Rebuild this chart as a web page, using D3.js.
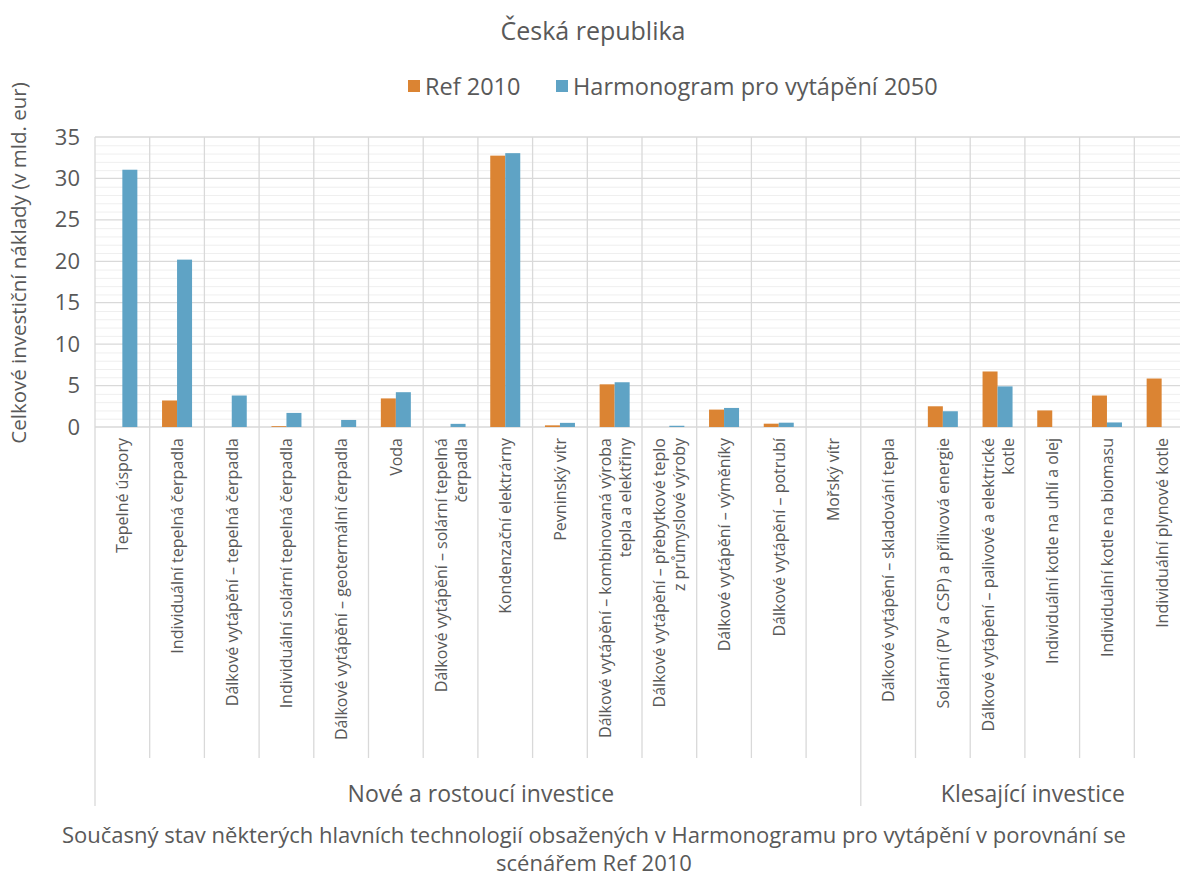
<!DOCTYPE html>
<html lang="cs">
<head>
<meta charset="utf-8">
<script src="https://cdn.jsdelivr.net/npm/d3@7"></script>
<style>
  html, body { margin: 0; padding: 0; background: #fff; }
  svg { display: block; font-family: "Open Sans", "Noto Sans", sans-serif; }
</style>
</head>
<body>
<svg id="chart" width="1180" height="876"></svg>
<script>
// Technologies (line breaks mark where the axis label wraps)
const categories = [
  "Tepelné úspory",
  "Individuální tepelná čerpadla",
  "Dálkové vytápění – tepelná čerpadla",
  "Individuální solární tepelná čerpadla",
  "Dálkové vytápění – geotermální čerpadla",
  "Voda",
  "Dálkové vytápění – solární tepelná\nčerpadla",
  "Kondenzační elektrárny",
  "Pevninský vítr",
  "Dálkové vytápění – kombinovaná výroba\ntepla a elektřiny",
  "Dálkové vytápění – přebytkové teplo\nz průmyslové výroby",
  "Dálkové vytápění – výměníky",
  "Dálkové vytápění – potrubí",
  "Mořský vítr",
  "Dálkové vytápění – skladování tepla",
  "Solární (PV a CSP) a přílivová energie",
  "Dálkové vytápění – palivové a elektrické\nkotle",
  "Individuální kotle na uhlí a olej",
  "Individuální kotle na biomasu",
  "Individuální plynové kotle"
];

// Total investment costs, billion EUR
const ref2010 = [0, 3.2, 0, 0.1, 0, 3.45, 0, 32.75, 0.2, 5.15, 0, 2.1, 0.4, 0,
                 0, 2.5, 6.7, 2.0, 3.8, 5.85];
const heatRoadmap = [31.05, 20.2, 3.8, 1.7, 0.85, 4.2, 0.38, 33.05, 0.5, 5.4, 0.15, 2.3, 0.52, 0,
                     0, 1.9, 4.9, 0, 0.55, 0];

const seriesNames = ["Ref 2010", "Harmonogram pro vytápění 2050"];
const seriesColors = ["#DB8433", "#5FA3C5"];

const groupNames = ["Nové a rostoucí investice", "Klesající investice"];
const groupSizes = [14, 6];

const yTicks = [0, 5, 10, 15, 20, 25, 30, 35];

const chartTitle = "Česká republika";
const yTitle = "Celkové investiční náklady (v mld. eur)";
const xTitle = ["Současný stav některých hlavních technologií obsažených v Harmonogramu pro vytápění v porovnání se",
                "scénářem Ref 2010"];

const textColor = "#595959";
const gridMajor = "#d9d9d9";
const gridMinor = "#efefef";

const svg = d3.select("#chart");

const plotLeft = 95, step = 54.7;
const plotTop = 137, plotBottom = 427;
const plotRight = 1180;

const x = d3.scaleBand()
  .domain(d3.range(categories.length))
  .range([plotLeft, plotLeft + step * categories.length])
  .paddingInner(0).paddingOuter(0);

const xSub = d3.scaleBand()
  .domain([0, 1])
  .range([0, x.bandwidth()])
  .paddingInner(0).paddingOuter(0.823);

const y = d3.scaleLinear().domain([0, 35]).range([plotBottom, plotTop]);

// minor gridlines
svg.append("g").selectAll("line")
  .data(d3.range(0, 36).filter(v => v % 5 !== 0))
  .join("line")
  .attr("x1", plotLeft).attr("x2", plotRight)
  .attr("y1", d => y(d) + 0.5).attr("y2", d => y(d) + 0.5)
  .attr("stroke", gridMinor).attr("stroke-width", 1);

// major gridlines
svg.append("g").selectAll("line")
  .data(yTicks)
  .join("line")
  .attr("x1", plotLeft).attr("x2", plotRight)
  .attr("y1", d => y(d)).attr("y2", d => y(d))
  .attr("stroke", gridMajor).attr("stroke-width", 1.3);

// vertical category separators across the plot and down through the label area
const catBottom = 758, groupBottom = 806;
const groupStarts = [0];
groupSizes.forEach((s, i) => groupStarts.push(groupStarts[i] + s));
const edgeX = d => (d < categories.length ? x(d) : x(d - 1) + x.bandwidth());
svg.append("g").selectAll("line")
  .data(d3.range(categories.length + 1))
  .join("line")
  .attr("x1", edgeX)
  .attr("x2", edgeX)
  .attr("y1", plotTop)
  .attr("y2", d => groupStarts.includes(d) ? groupBottom : catBottom)
  .attr("stroke", gridMajor).attr("stroke-width", 1.3);

// bars
const series = [ref2010, heatRoadmap];
series.forEach((vals, si) => {
  svg.append("g").selectAll("rect")
    .data(vals)
    .join("rect")
    .attr("x", (d, i) => x(i) + xSub(si))
    .attr("width", xSub.bandwidth())
    .attr("y", d => y(d))
    .attr("height", d => y(0) - y(d))
    .attr("fill", seriesColors[si]);
});

// y axis tick labels
const yAxis = d3.axisLeft(y).tickValues(yTicks).tickSize(0).tickPadding(0);
const gy = svg.append("g").attr("transform", `translate(${plotLeft - 15},0)`).call(yAxis);
gy.select(".domain").remove();
gy.selectAll("text")
  .attr("fill", textColor)
  .style("font-size", "22px")
  .style("font-family", "'Open Sans', sans-serif");

// rotated category labels
const labelTop = 438, lineGap = 20;
const catLabels = svg.append("g");
categories.forEach((c, i) => {
  const lines = c.split("\n");
  const cx = x(i) + x.bandwidth() / 2;
  lines.forEach((ln, li) => {
    const off = (li - (lines.length - 1) / 2) * lineGap;
    catLabels.append("text")
      .attr("transform", `translate(${cx + off},${labelTop}) rotate(-90)`)
      .attr("text-anchor", "end")
      .attr("dominant-baseline", "central")
      .attr("fill", textColor)
      .style("font-size", "16px")
      .text(ln);
  });
});

// group labels
const groupShift = [3, 8];
groupNames.forEach((g, i) => {
  const x0 = x(groupStarts[i]);
  const x1 = x(groupStarts[i + 1] - 1) + x.bandwidth();
  svg.append("text")
    .attr("x", (x0 + x1) / 2 + groupShift[i])
    .attr("y", 793)
    .attr("text-anchor", "middle")
    .attr("dominant-baseline", "central")
    .attr("fill", textColor)
    .style("font-size", "23px")
    .text(g);
});

// axis titles
svg.append("text")
  .attr("transform", `translate(18,263) rotate(-90)`)
  .attr("text-anchor", "middle")
  .attr("dominant-baseline", "central")
  .attr("fill", textColor)
  .style("font-size", "20.5px")
  .text(yTitle);

xTitle.forEach((t, i) => {
  svg.append("text")
    .attr("x", 594).attr("y", 834 + i * 28)
    .attr("text-anchor", "middle")
    .attr("dominant-baseline", "central")
    .attr("fill", textColor)
    .style("font-size", "22px")
    .text(t);
});

// chart title
svg.append("text")
  .attr("x", 593).attr("y", 30)
  .attr("text-anchor", "middle")
  .attr("dominant-baseline", "central")
  .attr("fill", textColor)
  .style("font-size", "25px")
  .text(chartTitle);

// legend
const legend = svg.append("g").attr("transform", "translate(0,86)");
const legendX = [408, 556];
seriesNames.forEach((n, i) => {
  legend.append("rect")
    .attr("x", legendX[i]).attr("y", -6)
    .attr("width", 12).attr("height", 12)
    .attr("fill", seriesColors[i]);
  legend.append("text")
    .attr("x", legendX[i] + 17).attr("y", 0)
    .attr("dominant-baseline", "central")
    .attr("fill", textColor)
    .style("font-size", "23.5px")
    .text(n);
});
</script>
</body>
</html>
